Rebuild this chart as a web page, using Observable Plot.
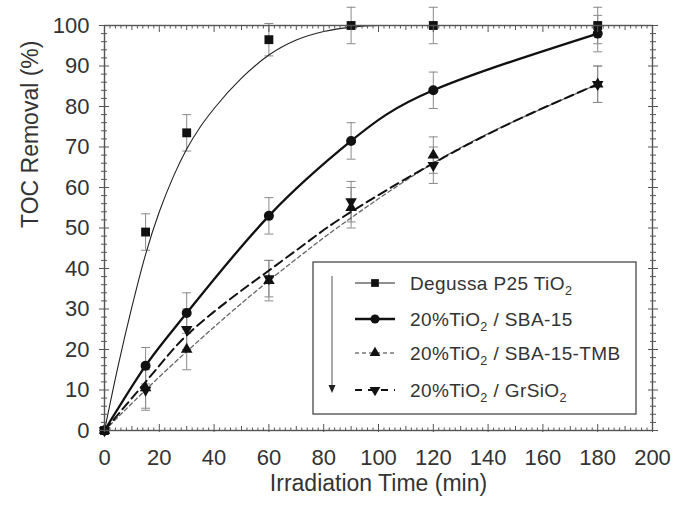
<!DOCTYPE html>
<html><head><meta charset="utf-8">
<script src="https://cdn.jsdelivr.net/npm/d3@7"></script>
<script src="https://cdn.jsdelivr.net/npm/@observablehq/plot@0.6"></script>
<style>
body{margin:0;background:#fff}
#chart{width:677px;height:506px}
</style>
</head><body><div id="chart"></div>
<script>
// ---- data ----
const times = [0, 15, 30, 60, 90, 120, 180];
const p25Values = [0, 49, 73.5, 96.5, 100, 100, 100];
const p25Errors = [0, 4.5, 4.5, 4, 4.5, 4.5, 4.5];
const sbaValues = [0, 16, 29, 53, 71.5, 84, 98];
const sbaErrors = [0, 4.5, 5, 4.5, 4.5, 4.5, 4.5];
const tmbValues = [0, 10.5, 20, 37, 55, 68, 85.5];
const tmbErrors = [0, 5, 5, 5, 5, 4.5, 4.5];
const grValues = [0, 10, 25, 37.5, 56.5, 65.5, 85.5];
const grErrors = [0, 5, 5, 4.5, 5, 4.5, 4.5];
// fitted curves
const p25FitTimes = [0, 5, 10, 15, 20, 25, 30, 35, 40, 50, 60, 70, 80, 90, 100, 120, 150, 180];
const p25FitValues = [0, 16, 30.5, 43.5, 54, 62.5, 69.5, 75, 79.5, 87, 92.7, 96.4, 98.5, 99.6, 100, 100, 100, 100];
const tmbFitTimes = [0, 15, 30, 45, 60, 75, 90, 120, 150, 180];
const tmbFitValues = [0, 10, 19.5, 28.5, 37, 45, 52.5, 66, 76.5, 85.5];
const grFitTimes = [0, 10, 20, 30, 45, 60, 75, 90, 120, 150, 180];
const grFitValues = [0, 8, 16, 23.5, 32, 39.5, 47, 54, 66, 76.5, 85.5];
const legendLabels = [
  ["Degussa P25 TiO", "2", ""],
  ["20%TiO", "2", " / SBA-15"],
  ["20%TiO", "2", " / SBA-15-TMB"],
  ["20%TiO", "2", " / GrSiO", "2"]
];
const xTickLabels = [0, 20, 40, 60, 80, 100, 120, 140, 160, 180, 200];
const yTickLabels = [0, 10, 20, 30, 40, 50, 60, 70, 80, 90, 100];
const xTitle = "Irradiation Time (min)";
const yTitle = "TOC Removal (%)";

// ---- build ----
const rowsOf = (vals, errs) => times.map((t, i) => ({t, v: vals[i], e: errs[i]}));
const fitOf = (ts, vs) => ts.map((t, i) => ({t, v: vs[i]}));
const p25 = rowsOf(p25Values, p25Errors);
const sba = rowsOf(sbaValues, sbaErrors);
const tmb = rowsOf(tmbValues, tmbErrors);
const gr = rowsOf(grValues, grErrors);
const p25Fit = fitOf(p25FitTimes, p25FitValues);
const tmbFit = fitOf(tmbFitTimes, tmbFitValues);
const grFit = fitOf(grFitTimes, grFitValues);

const xMinor = d3.range(0, 201, 10).filter(d => d % 20);
const xTiny = d3.range(0, 201, 2).filter(d => d % 10);
const yMinor = d3.range(0, 101, 2).filter(d => d % 10);

const cap = {draw(ctx) { ctx.moveTo(-4.5, 0); ctx.lineTo(4.5, 0); }};
const errColor = "#8a8a8a";
function errMarks(rows) {
  const r = rows.filter(d => d.e > 0);
  return [
    Plot.ruleX(r, {x: "t", y1: d => d.v - d.e, y2: d => d.v + d.e, stroke: errColor, strokeWidth: 1}),
    Plot.dot(r, {x: "t", y: d => d.v + d.e, symbol: cap, r: 3, stroke: errColor, strokeWidth: 1, fill: "none"}),
    Plot.dot(r, {x: "t", y: d => d.v - d.e, symbol: cap, r: 3, stroke: errColor, strokeWidth: 1, fill: "none"})
  ];
}
const axisColor = "#555";
const textColor = "#333";
const fontFamily = "'Liberation Sans', Arial, sans-serif";

const plot = Plot.plot({
  width: 677, height: 506,
  marginLeft: 104, marginRight: 25, marginTop: 25, marginBottom: 76,
  style: {fontFamily, fontSize: "22px", background: "#fff"},
  x: {domain: [0, 200], axis: null},
  y: {domain: [0, 100], axis: null},
  marks: [
    // error bars
    ...errMarks(p25), ...errMarks(sba), ...errMarks(tmb), ...errMarks(gr),
    // lines
    Plot.line(p25Fit, {x: "t", y: "v", curve: "monotone-x", stroke: "#222", strokeWidth: 1.1}),
    Plot.line(sba, {x: "t", y: "v", curve: "natural", stroke: "#111", strokeWidth: 2.3}),
    Plot.line(tmbFit, {x: "t", y: "v", curve: "natural", stroke: "#666", strokeWidth: 1.3, strokeDasharray: "4,3"}),
    Plot.line(grFit, {x: "t", y: "v", curve: "natural", stroke: "#111", strokeWidth: 2, strokeDasharray: "9,5"}),
    // points
    Plot.dot(p25, {x: "t", y: "v", symbol: "square", r: 5, fill: "#111"}),
    Plot.dot(sba, {x: "t", y: "v", symbol: "circle", r: 5, fill: "#111"}),
    Plot.dot(tmb, {x: "t", y: "v", symbol: "triangle", r: 4.3, fill: "#111"}),
    Plot.dot(gr, {x: "t", y: "v", symbol: "triangle", rotate: 180, r: 4.3, fill: "#111"}),
    // frame
    Plot.frame({stroke: axisColor, strokeWidth: 1.4}),
    // ticks (inward)
    Plot.axisX(xTickLabels, {anchor: "bottom", fill: "none", stroke: axisColor, tickSize: 8, dy: -6, label: null}),
    Plot.axisX(xMinor, {anchor: "bottom", fill: "none", stroke: axisColor, tickSize: 5, dy: -4, label: null}),
    Plot.axisX(xTiny, {anchor: "bottom", fill: "none", stroke: axisColor, tickSize: 2.5, dy: -2.5, label: null}),
    Plot.axisX(xTickLabels, {anchor: "top", fill: "none", stroke: axisColor, tickSize: 6, dy: 6, label: null}),
    Plot.axisX(xMinor, {anchor: "top", fill: "none", stroke: axisColor, tickSize: 4, dy: 4, label: null}),
    Plot.axisX(xTiny, {anchor: "top", fill: "none", stroke: axisColor, tickSize: 2.5, dy: 2.5, label: null}),
    Plot.axisY(yTickLabels, {anchor: "left", fill: "none", stroke: axisColor, tickSize: 10, dx: 5, label: null}),
    Plot.axisY(yMinor, {anchor: "left", fill: "none", stroke: axisColor, tickSize: 6, dx: 3, label: null}),
    Plot.axisY(yTickLabels, {anchor: "right", fill: "none", stroke: axisColor, tickSize: 10, dx: -5, label: null}),
    Plot.axisY(yMinor, {anchor: "right", fill: "none", stroke: axisColor, tickSize: 6, dx: -3, label: null}),
    // tick labels
    Plot.axisX(xTickLabels, {anchor: "bottom", tickSize: 0, tickPadding: 19, fill: textColor, label: null}),
    Plot.axisY(yTickLabels, {anchor: "left", tickSize: 0, tickPadding: 15, fill: textColor, label: null}),
    // titles
    Plot.text([xTitle], {frameAnchor: "bottom", dy: 60, text: d => d, fill: textColor, fontSize: 23}),
    Plot.text([yTitle], {frameAnchor: "left", dx: -74, rotate: -90, text: d => d, fill: textColor, fontSize: 23})
  ]
});
document.getElementById("chart").appendChild(plot);

// ---- legend (inside the plot area) ----
const svg = d3.select(plot);
const lg = svg.append("g").attr("font-family", fontFamily).attr("font-size", 19)
  .attr("fill", textColor).attr("text-anchor", "start");
lg.append("rect").attr("x", 313).attr("y", 262).attr("width", 323).attr("height", 152)
  .attr("fill", "#fff").attr("stroke", axisColor).attr("stroke-width", 1.4);
// arrow
lg.append("line").attr("x1", 332).attr("x2", 332).attr("y1", 276).attr("y2", 386).attr("stroke", "#555").attr("stroke-width", 1);
lg.append("path").attr("d", "M328.5,385 L335.5,385 L332,393 Z").attr("fill", "#222");
const rowY = [283, 319, 353, 390];
const lineStyles = [
  {stroke: "#222", w: 1.1, dash: null},
  {stroke: "#111", w: 2.3, dash: null},
  {stroke: "#777", w: 1.3, dash: "4,3"},
  {stroke: "#111", w: 2, dash: "7,6"}
];
const symbols = [d3.symbolSquare, d3.symbolCircle, d3.symbolTriangle, d3.symbolTriangle];
const symSizes = [60, 65, 50, 50];
legendLabels.forEach((parts, i) => {
  const y = rowY[i], s = lineStyles[i];
  lg.append("line").attr("x1", 355).attr("x2", 395).attr("y1", y).attr("y2", y)
    .attr("stroke", s.stroke).attr("stroke-width", s.w).attr("stroke-dasharray", s.dash);
  lg.append("path").attr("d", d3.symbol(symbols[i], symSizes[i])())
    .attr("transform", `translate(375,${y})` + (i === 3 ? " rotate(180)" : ""))
    .attr("fill", "#111");
  const t = lg.append("text").attr("x", 410).attr("y", y).attr("dy", "0.35em").attr("letter-spacing", "0.4px");
  parts.forEach((p, j) => {
    if (!p) return;
    if (j % 2 === 1) {
      t.append("tspan").attr("font-size", 12.5).attr("dy", 5).text(p);
    } else {
      t.append("tspan").attr("dy", j === 0 ? null : -5).text(p);
    }
  });
});
</script>
</body></html>
